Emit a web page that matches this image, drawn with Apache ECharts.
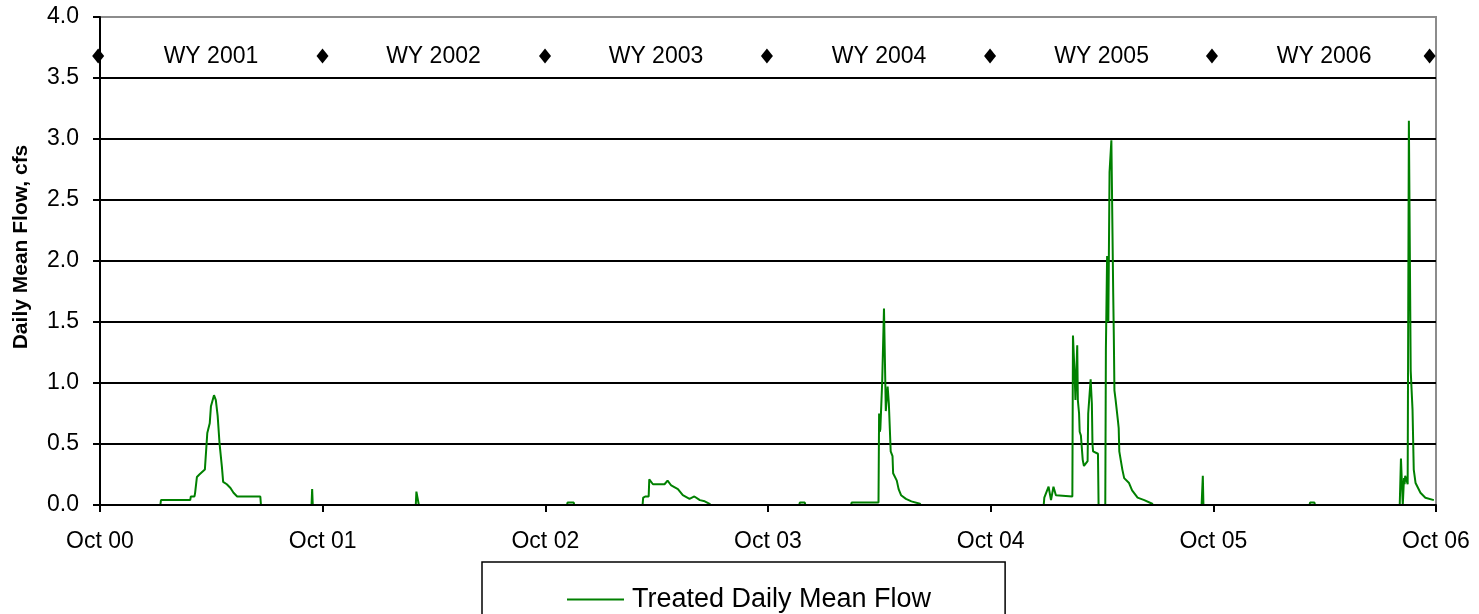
<!DOCTYPE html>
<html>
<head>
<meta charset="utf-8">
<title>Treated Daily Mean Flow</title>
<script src="https://cdn.jsdelivr.net/npm/echarts@6/dist/echarts.min.js"></script>
<style>
  html, body { margin: 0; padding: 0; background: #fff; }
  #main { width: 1479px; height: 614px; }
</style>
</head>
<body>
<div id="main"></div>
<script>
// daily mean flow, cfs (0 between events)
var flowDates = [
  '2000-10-01', '2001-01-08', '2001-01-09', '2001-02-26', '2001-02-27', '2001-03-05',
  '2001-03-06', '2001-03-08', '2001-03-09', '2001-03-13', '2001-03-22', '2001-03-24',
  '2001-03-26', '2001-03-30', '2001-04-01', '2001-04-06', '2001-04-09', '2001-04-12',
  '2001-04-15', '2001-04-19', '2001-04-21', '2001-04-27', '2001-05-03', '2001-05-08',
  '2001-05-14', '2001-06-21', '2001-06-22', '2001-09-13', '2001-09-14', '2001-09-15',
  '2002-03-03', '2002-03-04', '2002-03-07', '2002-03-08',
  '2002-11-06', '2002-11-07', '2002-11-17', '2002-11-18',
  '2003-03-10', '2003-03-11', '2003-03-15', '2003-03-20', '2003-03-21', '2003-03-27',
  '2003-04-15', '2003-04-20', '2003-04-26', '2003-05-07', '2003-05-15', '2003-05-26',
  '2003-06-03', '2003-06-12', '2003-06-20', '2003-06-28', '2003-06-29',
  '2003-11-22', '2003-11-23', '2003-12-01', '2003-12-02',
  '2004-02-15', '2004-02-16', '2004-03-31', '2004-04-01', '2004-04-02', '2004-04-03',
  '2004-04-06', '2004-04-09', '2004-04-12', '2004-04-15', '2004-04-17', '2004-04-20',
  '2004-04-23', '2004-04-24', '2004-04-30', '2004-05-03', '2004-05-07', '2004-05-15',
  '2004-05-24', '2004-06-07', '2004-06-08',
  '2004-12-27', '2004-12-28', '2005-01-04', '2005-01-08', '2005-01-12', '2005-01-16',
  '2005-02-12', '2005-02-13', '2005-02-16', '2005-02-17', '2005-02-20', '2005-02-21',
  '2005-02-23', '2005-02-24', '2005-02-26', '2005-03-01', '2005-03-03', '2005-03-09',
  '2005-03-10', '2005-03-14', '2005-03-16', '2005-03-17', '2005-03-18', '2005-03-26',
  '2005-03-27', '2005-04-07', '2005-04-08', '2005-04-10', '2005-04-12', '2005-04-14',
  '2005-04-17', '2005-04-20', '2005-04-21', '2005-04-22', '2005-04-24', '2005-04-28',
  '2005-04-29', '2005-04-30', '2005-05-03', '2005-05-05', '2005-05-08', '2005-05-16',
  '2005-05-21', '2005-05-30', '2005-06-10', '2005-06-23', '2005-06-24',
  '2005-09-12', '2005-09-14', '2005-09-15',
  '2006-03-08', '2006-03-09', '2006-03-16', '2006-03-17',
  '2006-08-03', '2006-08-05', '2006-08-08', '2006-08-10', '2006-08-11', '2006-08-12',
  '2006-08-16', '2006-08-18', '2006-08-21', '2006-08-24', '2006-08-26', '2006-08-29',
  '2006-09-06', '2006-09-14', '2006-09-28'
];
var flowValues = [
  0, 0, 0.04, 0.04, 0.07, 0.07,
  0.10, 0.10, 0.23, 0.25, 0.29, 0.44,
  0.59, 0.67, 0.81, 0.90, 0.86, 0.73,
  0.51, 0.31, 0.19, 0.17, 0.14, 0.10,
  0.07, 0.07, 0, 0, 0.13, 0,
  0, 0.11, 0.10, 0,
  0, 0.02, 0.02, 0,
  0, 0.06, 0.07, 0.07, 0.21, 0.17,
  0.17, 0.20, 0.16, 0.13, 0.08, 0.05,
  0.07, 0.04, 0.03, 0.01, 0,
  0, 0.02, 0.02, 0,
  0, 0.02, 0.02, 0.75, 0.60, 0.62,
  1.00, 1.61, 0.77, 0.97, 0.83, 0.44,
  0.40, 0.26, 0.20, 0.13, 0.08, 0.05,
  0.03, 0.01, 0,
  0, 0.06, 0.15, 0.04, 0.15, 0.08,
  0.07, 1.39, 1.03, 0.86, 1.31, 0.86,
  0.75, 0.60, 0.57, 0.37, 0.32, 0.36,
  0.75, 1.03, 0.83, 0.50, 0.44, 0.42,
  0, 0, 1.27, 2.04, 1.50, 2.73,
  2.99, 1.74, 1.39, 0.94, 0.86, 0.68,
  0.63, 0.44, 0.35, 0.29, 0.22, 0.18,
  0.12, 0.06, 0.04, 0.01, 0,
  0, 0.24, 0,
  0, 0.02, 0.02, 0,
  0, 0.38, 0, 0.22, 0.17, 0.24,
  0.17, 3.15, 1.10, 0.78, 0.29, 0.18,
  0.10, 0.06, 0.04
];

// water-year dividers and labels
var wyMarkDates = ['2000-09-28', '2001-10-01', '2002-10-01', '2003-09-30', '2004-09-30', '2005-09-29', '2006-09-21'];
var wyMarkLevel = 3.68;
var wyLabels = ['WY 2001', 'WY 2002', 'WY 2003', 'WY 2004', 'WY 2005', 'WY 2006'];
var wyLabelDates = ['2001-04-01', '2002-04-01', '2003-04-01', '2004-04-01', '2005-04-01', '2006-04-01'];

var xTickLabels = ['Oct 00', 'Oct 01', 'Oct 02', 'Oct 03', 'Oct 04', 'Oct 05', 'Oct 06'];

// x is years since 1 Oct 2000
var start = Date.UTC(2000, 9, 1);
function toYears (s) {
  var p = s.split('-');
  return (Date.UTC(+p[0], +p[1] - 1, +p[2]) - start) / (365.25 * 86400000);
}

// flat zero stretches sit under the x axis in the original, leave them as gaps
var flowData = [];
for (var i = 0; i < flowDates.length; i++) {
  var x = toYears(flowDates[i]);
  flowData.push([x, flowValues[i]]);
  if (flowValues[i] === 0 && flowValues[i + 1] === 0) {
    flowData.push([(x + toYears(flowDates[i + 1])) / 2, '-']);
  }
}
var markData = wyMarkDates.map(function (d) { return [toYears(d), wyMarkLevel]; });
var labelData = wyLabelDates.map(function (d, i) { return [toYears(d), wyMarkLevel, wyLabels[i]]; });

var font = 'Arial, "Liberation Sans", sans-serif';
var myChart = echarts.init(document.getElementById('main'));
myChart.setOption({
  animation: false,
  backgroundColor: '#fff',
  textStyle: { fontFamily: font, color: '#000' },
  grid: {
    left: 100, right: 43, top: 17, bottom: 109,
    show: true, borderColor: '#8c8c8c', borderWidth: 2
  },
  legend: {
    data: [{ name: 'Treated Daily Mean Flow', icon: 'rect' }],
    left: 482, top: 562,
    padding: [24, 74, 30, 85],
    borderColor: '#000', borderWidth: 1.5,
    itemWidth: 57, itemHeight: 2,
    textStyle: { fontSize: 27, color: '#000', fontFamily: font, padding: [0, 0, 0, 3] }
  },
  xAxis: {
    type: 'value',
    min: 0, max: 6, interval: 1,
    z: 3,
    axisLine: { lineStyle: { color: '#000', width: 2 } },
    axisTick: { length: 7, lineStyle: { color: '#000', width: 2 } },
    axisLabel: {
      margin: 25, fontSize: 23, color: '#000',
      formatter: function (v) { return xTickLabels[Math.round(v)]; }
    },
    splitLine: { show: false }
  },
  yAxis: {
    type: 'value',
    min: 0, max: 4, interval: 0.5,
    name: 'Daily Mean Flow, cfs',
    nameLocation: 'middle',
    nameGap: 68,
    nameTextStyle: { fontSize: 21, fontWeight: 'bold', color: '#000', padding: [0, 0, 0, 28] },
    axisLine: { show: true, lineStyle: { color: '#000', width: 2 } },
    axisTick: { show: true, length: 7, lineStyle: { color: '#000', width: 2 } },
    axisLabel: {
      margin: 21, fontSize: 23, color: '#000',
      formatter: function (v) { return v.toFixed(1); }
    },
    splitLine: {
      show: true,
      showMaxLine: false,
      lineStyle: { color: '#000', width: 2 }
    }
  },
  series: [
    {
      name: 'Treated Daily Mean Flow',
      type: 'line',
      data: flowData,
      symbol: 'none',
      connectNulls: false,
      z: 2,
      lineStyle: { color: '#008000', width: 2 },
      itemStyle: { color: '#008000' }
    },
    {
      name: 'WY marks',
      type: 'scatter',
      data: markData,
      symbol: 'diamond',
      symbolSize: [12, 15],
      clip: false,
      z: 5,
      itemStyle: { color: '#000', opacity: 1 },
      silent: true
    },
    {
      name: 'WY labels',
      type: 'scatter',
      data: labelData,
      symbolSize: 0,
      z: 5,
      silent: true,
      itemStyle: { color: '#000', opacity: 1 },
      label: {
        show: true,
        position: 'top',
        distance: 0,
        offset: [0, 12],
        fontSize: 23,
        color: '#000',
        opacity: 1,
        textBorderWidth: 0,
        fontFamily: font,
        formatter: function (p) { return p.data[2]; }
      }
    }
  ]
});
window.onresize = myChart.resize;
</script>
</body>
</html>
